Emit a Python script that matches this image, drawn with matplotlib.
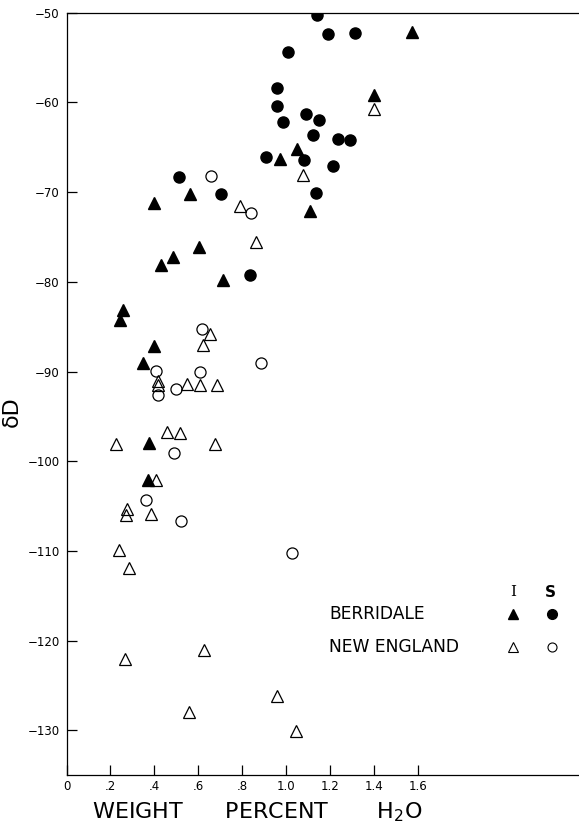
import matplotlib
matplotlib.use("Agg")
import matplotlib.pyplot as plt

# ---- data (weight percent H2O, deltaD) ----
berridale_I_x = [1.57, 1.40, 1.047, 0.973, 1.108, 0.562, 0.400, 0.604, 0.485, 0.431,
                 0.712, 0.256, 0.245, 0.398, 0.350, 0.374, 0.372]
berridale_I_y = [-52.2, -59.2, -65.2, -66.3, -72.1, -70.2, -71.2, -76.1, -77.2, -78.1,
                 -79.8, -83.1, -84.2, -87.2, -89.0, -98.0, -102.1]

berridale_S_x = [1.138, 1.188, 1.313, 1.009, 0.956, 0.956, 1.088, 0.986, 1.149, 1.123,
                 1.234, 1.288, 0.906, 1.081, 1.214, 1.135, 0.513, 0.701, 0.833]
berridale_S_y = [-50.3, -52.4, -52.3, -54.4, -58.4, -60.4, -61.3, -62.2, -62.0, -63.6,
                 -64.1, -64.2, -66.1, -66.4, -67.1, -70.1, -68.3, -70.2, -79.2]

newengland_I_x = [1.075, 1.400, 0.791, 0.864, 0.653, 0.621, 0.415, 0.415, 0.547, 0.606,
                  0.686, 0.459, 0.518, 0.224, 0.677, 0.407, 0.277, 0.271, 0.384, 0.239,
                  0.286, 0.266, 0.626, 0.559, 0.956, 1.044]
newengland_I_y = [-68.1, -60.7, -71.5, -75.6, -85.8, -87.0, -91.0, -91.5, -91.4, -91.5,
                  -91.5, -96.7, -96.9, -98.1, -98.1, -102.1, -105.3, -106.0, -105.9, -109.9,
                  -111.9, -122.0, -121.0, -127.9, -126.2, -130.1]

newengland_S_x = [0.659, 0.839, 0.615, 0.885, 0.406, 0.607, 0.498, 0.418, 0.488, 0.362,
                  0.521, 1.024]
newengland_S_y = [-68.2, -72.3, -85.3, -89.0, -89.9, -90.1, -91.9, -92.6, -99.1, -104.3,
                  -106.6, -110.2]

x_ticks = [0, 0.2, 0.4, 0.6, 0.8, 1.0, 1.2, 1.4, 1.6]
x_tick_labels = ["0", ".2", ".4", ".6", ".8", "1.0", "1.2", "1.4", "1.6"]
y_ticks = [-50, -60, -70, -80, -90, -100, -110, -120, -130]
y_tick_labels = ["\u221250", "\u221260", "\u221270", "\u221280", "\u221290",
                 "\u2212100", "\u2212110", "\u2212120", "\u2212130"]

plt.rcParams['font.family'] = ['DejaVu Sans']

W, H = 579, 825
fig = plt.figure(figsize=(W / 100, H / 100), dpi=100)
left_px, right_px, top_px, bottom_px = 66.5, 579, 12.7, 775.3
ax = fig.add_axes([left_px / W, 1 - bottom_px / H,
                   (right_px - left_px) / W, (bottom_px - top_px) / H])

ax.set_xlim(0, 2.332)
ax.set_ylim(-135, -50)

ms = 8.3
ax.plot(berridale_I_x, berridale_I_y, linestyle='none', marker='^', ms=ms,
        color='black', mec='black')
ax.plot(berridale_S_x, berridale_S_y, linestyle='none', marker='o', ms=8,
        color='black', mec='black')
ax.plot(newengland_I_x, newengland_I_y, linestyle='none', marker='^', ms=ms,
        mfc='none', mec='black', mew=0.9)
ax.plot(newengland_S_x, newengland_S_y, linestyle='none', marker='o', ms=8,
        mfc='none', mec='black', mew=0.9)

ax.spines['right'].set_visible(False)
for side in ['left', 'top', 'bottom']:
    ax.spines[side].set_linewidth(0.9)

ax.set_xticks(x_ticks)
ax.set_xticklabels(x_tick_labels)
ax.set_yticks(y_ticks)
ax.set_yticklabels(y_tick_labels)
ax.tick_params(axis='both', direction='in', length=7, width=0.9, labelsize=8.5)
ax.tick_params(axis='x', pad=3.5)
ax.tick_params(axis='y', pad=5)

ax.set_xlabel("WEIGHT      PERCENT       H$_2$O", fontsize=16)
ax.xaxis.set_label_coords((257.5 - left_px) / (right_px - left_px),
                          (bottom_px - 800) / (bottom_px - top_px))
ax.set_ylabel("\u03b4D", fontsize=16)
ax.yaxis.set_label_coords(-(left_px - 22) / (right_px - left_px),
                          (bottom_px - 412) / (bottom_px - top_px))

# ---- legend (custom table layout) ----
def fx(px):
    return (px - left_px) / (right_px - left_px)

def fy(py):
    return (bottom_px - py) / (bottom_px - top_px)

tr = ax.transAxes
ax.text(fx(513.3), fy(592.3), "I", transform=tr, ha='center', va='center',
        fontsize=11, family='DejaVu Serif')
ax.text(fx(550.7), fy(592.3), "S", transform=tr, ha='center', va='center',
        fontsize=11, fontweight='bold')
ax.text(fx(329), fy(614.3), "BERRIDALE", transform=tr, ha='left', va='center',
        fontsize=12.3)
ax.text(fx(329), fy(646.7), "NEW ENGLAND", transform=tr, ha='left', va='center',
        fontsize=12.3)
ax.plot([fx(513.3)], [fy(614.3)], transform=tr, marker='^', ms=7.5, color='black',
        linestyle='none', clip_on=False)
ax.plot([fx(551.7)], [fy(614.3)], transform=tr, marker='o', ms=7, color='black',
        linestyle='none', clip_on=False)
ax.plot([fx(513.3)], [fy(646.7)], transform=tr, marker='^', ms=6.5, mfc='none',
        mec='black', mew=0.8, linestyle='none', clip_on=False)
ax.plot([fx(551.7)], [fy(646.7)], transform=tr, marker='o', ms=6.5, mfc='none',
        mec='black', mew=0.8, linestyle='none', clip_on=False)

fig.savefig("out.png", dpi=100)
